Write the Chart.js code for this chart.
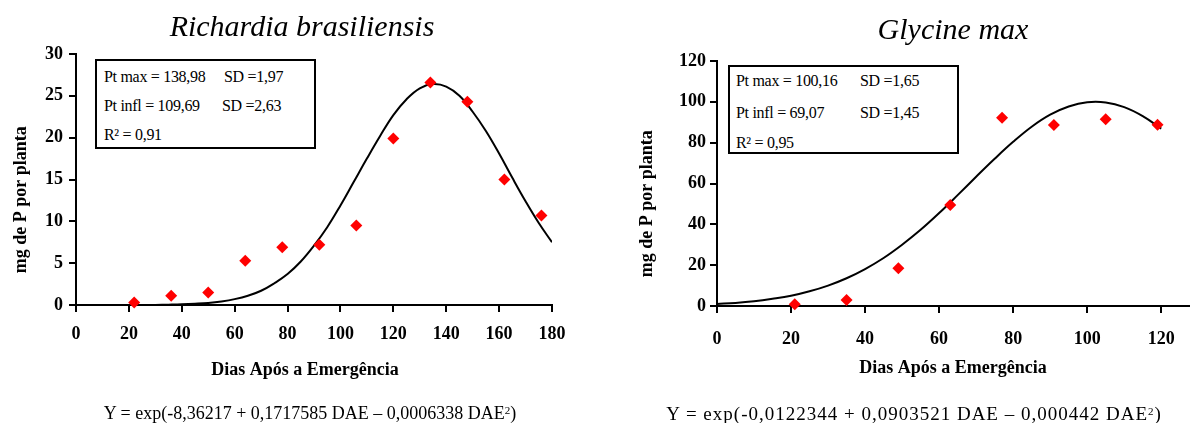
<!DOCTYPE html>
<html><head><meta charset="utf-8">
<script src="https://cdn.jsdelivr.net/npm/chart.js@4.4.0/dist/chart.umd.min.js"></script>
<style>
html,body{margin:0;padding:0;background:#fff;}
#wrap{position:relative;width:1195px;height:423px;overflow:hidden;font-family:'Liberation Serif','Times New Roman',serif;color:#000;}
canvas{position:absolute;top:0;}
.title{position:absolute;font-style:italic;font-size:30px;line-height:30px;white-space:nowrap;transform:translateX(-50%);}
.box{position:absolute;border:2px solid #000;box-sizing:border-box;background:#fff;}
.t{position:absolute;font-size:16px;line-height:20px;letter-spacing:-0.3px;white-space:nowrap;}
.eq{position:absolute;white-space:nowrap;line-height:20px;transform:translateX(-50%);}
.eq sup{font-size:11px;position:relative;top:-3px;vertical-align:top;}
</style>
</head><body>
<div id="wrap">
<canvas id="cL" width="600" height="423" style="left:0"></canvas>
<canvas id="cR" width="595" height="423" style="left:600px"></canvas>

<div class="title" style="left:302px;top:11px">Richardia brasiliensis</div>
<div class="title" style="left:953px;top:14px">Glycine max</div>

<div class="box" style="left:95px;top:59px;width:221px;height:90px"></div>
<div class="t" style="left:104px;top:67px">Pt max = 138,98</div>
<div class="t" style="left:224px;top:67px">SD =1,97</div>
<div class="t" style="left:104px;top:96px">Pt infl = 109,69</div>
<div class="t" style="left:222px;top:96px">SD =2,63</div>
<div class="t" style="left:104px;top:125px">R² = 0,91</div>

<div class="box" style="left:728px;top:65px;width:231px;height:89px"></div>
<div class="t" style="left:736px;top:71px">Pt max = 100,16</div>
<div class="t" style="left:860px;top:71px">SD =1,65</div>
<div class="t" style="left:736px;top:103px">Pt infl = 69,07</div>
<div class="t" style="left:860px;top:103px">SD =1,45</div>
<div class="t" style="left:736px;top:133px">R² = 0,95</div>

<div class="eq" style="left:310px;top:403px;font-size:18px">Y = exp(-8,36217 + 0,1717585 DAE – 0,0006338 DAE<sup>2</sup>)</div>
<div class="eq" style="left:914px;top:404px;font-size:19px;letter-spacing:1px">Y = exp(-0,0122344 + 0,0903521 DAE – 0,000442 DAE<sup>2</sup>)</div>
</div>

<script>
// ---- Data: Richardia brasiliensis ----
const leftDays = [22, 36, 50, 64, 78, 92, 106, 120, 134, 148, 162, 176];
const leftP = [0.3, 1.1, 1.5, 5.3, 6.9, 7.2, 9.5, 19.9, 26.6, 24.3, 15.0, 10.7];
const leftCurveDays = [0,5,10,15,20,25,30,35,40,45,50,55,60,65,70,75,80,85,90,95,100,105,110,115,120,125,130,135,140,145,150,155,160,165,170,175,180];
const leftCurve = [0,0,0,0,0,0,0.01,0.04,0.08,0.15,0.25,0.43,0.7,1.1,1.7,2.6,3.7,5.2,7.1,9.3,11.9,14.7,17.5,20.2,22.7,24.6,25.9,26.4,26.1,25.0,23.1,20.8,18.1,15.2,12.4,9.8,7.5];
const leftXTicks = [0, 20, 40, 60, 80, 100, 120, 140, 160, 180];
const leftYTicks = [0, 5, 10, 15, 20, 25, 30];

// ---- Data: Glycine max ----
const rightDays = [21, 35, 49, 63, 77, 91, 105, 119];
const rightP = [0.8, 3.0, 18.5, 49.5, 92.2, 88.7, 91.5, 88.8];
const rightCurveDays = [0,5,10,15,20,25,30,35,40,45,50,55,60,65,70,75,80,85,90,95,100,105,110,115,120];
const rightCurve = [1.0,1.5,2.3,3.5,5.0,7.2,10.0,13.6,18.1,23.5,30.0,37.3,45.5,54.3,63.3,72.1,80.4,87.8,93.7,97.7,99.8,99.7,97.4,93.0,86.9];
const rightXTicks = [0, 20, 40, 60, 80, 100, 120];
const rightYTicks = [0, 20, 40, 60, 80, 100, 120];

const FONT = "'Liberation Serif','Times New Roman',serif";
const NB = '\u00A0';
const bold18 = {family: FONT, size: 18, weight: 'bold'};

function pts(xs, ys){ return xs.map((x,i)=>({x:x, y:ys[i]})); }

function makeChart(id, cfg){
  const gridOpt = {display:true, drawOnChartArea:false, drawTicks:true, tickLength:7, color:'#000', lineWidth:2};
  const borderOpt = {display:true, color:'#000', width:2};
  return new Chart(document.getElementById(id), {
    type: 'line',
    data: {
      datasets: [
        {type:'scatter', data: pts(cfg.days, cfg.vals), pointStyle:'rectRot', pointRadius:6,
         backgroundColor:'#ff0000', borderColor:'#ff0000', borderWidth:0, showLine:false, clip:false},
        {type:'line', data: pts(cfg.cDays, cfg.cVals), borderColor:'#000', borderWidth:2,
         pointRadius:0, tension:0.4, fill:false}
      ]
    },
    options: {
      responsive:false, animation:false,
      layout:{padding: cfg.pad},
      plugins:{legend:{display:false}, tooltip:{enabled:false}, title:{display:false}},
      scales:{
        x:{type:'linear', min:cfg.xTicks[0], max:cfg.xMax,
           afterBuildTicks: s => { s.ticks = cfg.xTicks.map(v=>({value:v})); },
           ticks:{autoSkip:false, maxRotation:0, color:'#000', font:bold18, padding:cfg.xTickPad},
           grid:gridOpt, border:borderOpt,
           title:{display:true, text:cfg.xTitle, color:'#000', font:bold18, padding:{top:0,bottom:cfg.xTitlePad}},
           afterFit: s => { s.height = 80; }},
        y:{type:'linear', min:cfg.yTicks[0], max:cfg.yTicks[cfg.yTicks.length-1],
           afterBuildTicks: s => { s.ticks = cfg.yTicks.map(v=>({value:v})); },
           ticks:{color:'#000', font:bold18, padding:cfg.yTickPad},
           grid:gridOpt, border:borderOpt,
           title:{display:true, text:'mg de P por planta' + NB.repeat(9), color:'#000', font:bold18, padding:{top:cfg.yTitlePad,bottom:0}},
           afterFit: s => { s.width = cfg.yWidth; }}
      }
    }
  });
}

makeChart('cL', {
  days:leftDays, vals:leftP, cDays:leftCurveDays, cVals:leftCurve,
  xTicks:leftXTicks, xMax:180, yTicks:leftYTicks,
  pad:{left:0, top:54, right:48, bottom:38},
  xTickPad:12, xTitlePad:4, yTickPad:6, yTitlePad:11, yWidth:76,
  xTitle:'Dias Após a Emergência' + NB.repeat(4)
});

makeChart('cR', {
  days:rightDays, vals:rightP, cDays:rightCurveDays, cVals:rightCurve,
  xTicks:rightXTicks, xMax:127.5, yTicks:rightYTicks,
  pad:{left:0, top:61, right:0, bottom:37},
  xTickPad:16, xTitlePad:7, yTickPad:4, yTitlePad:37, yWidth:117,
  xTitle:'Dias Após a Emergência'
});
</script>
</body></html>
